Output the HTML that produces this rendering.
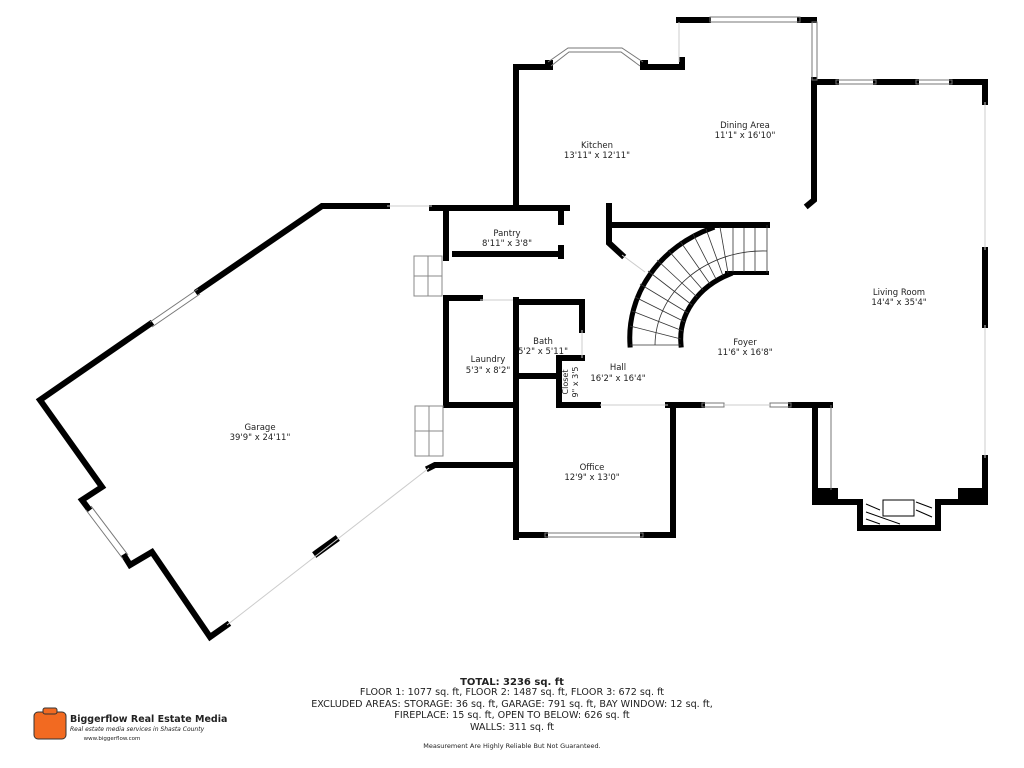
<!DOCTYPE html>
<html><head><meta charset="utf-8"><style>
body{margin:0;background:#fff;width:1024px;height:768px;overflow:hidden}
svg{display:block}
text{font-family:"DejaVu Sans","Liberation Sans",sans-serif;fill:#222}
</style></head><body>
<svg width="1024" height="768" viewBox="0 0 1024 768">
<g fill="none" stroke="#000" stroke-width="6" stroke-linejoin="miter" stroke-linecap="square">
<!-- garage -->
<polyline points="387,206 322,206 198,291"/>
<polyline points="150,324 40,400 102,487 82,500 88,508"/>
<polyline points="125,557 130,565 152,552 210,637 227,625"/>
<polyline points="429,468 435,465 512,465"/>
<line x1="317" y1="553" x2="335" y2="540" stroke-width="7"/>
<!-- interior west -->
<polyline points="432,208 567,208"/>
<line x1="446" y1="208" x2="446" y2="258"/>
<polyline points="446,298 446,405 512,405"/>
<line x1="446" y1="298" x2="480" y2="298"/>
<polyline points="455,254 560,254"/>
<line x1="561" y1="210" x2="561" y2="222"/>
<line x1="561" y1="248" x2="561" y2="256"/>
<line x1="516" y1="300" x2="516" y2="537"/>
<polyline points="516,302 582,302 582,330"/>
<polyline points="516,376 557,376"/>
<polyline points="582,358 559,358 559,405 598,405"/>
<!-- kitchen -->
<polyline points="516,206 516,67 545,67"/>
<polyline points="645,67 682,67 682,60"/>
<polyline points="679,20 708,20"/>
<line x1="800" y1="20" x2="814" y2="20"/>
<!-- dining right -->
<polyline points="814,80 814,200 808,205"/>
<!-- living -->
<polyline points="814,82 836,82"/>
<line x1="876" y1="82" x2="916" y2="82"/>
<line x1="952" y1="82" x2="985" y2="82"/>
<line x1="985" y1="82" x2="985" y2="102"/>
<line x1="985" y1="250" x2="985" y2="325"/>
<line x1="985" y1="458" x2="985" y2="502"/>
<!-- stairs walls -->
<polyline points="609,206 609,243 622,255"/>
<line x1="610" y1="225" x2="767" y2="225"/>
<line x1="727" y1="273" x2="767" y2="273" stroke-width="4"/>
<path d="M630,345 A130,118 0 0 1 712,228" stroke-width="5"/>
<path d="M681,345 A86,72 0 0 1 730,274" stroke-width="5"/>
<!-- south -->
<line x1="668" y1="405" x2="702" y2="405"/>
<line x1="791" y1="405" x2="830" y2="405"/>
<polyline points="673,405 673,535 643,535"/>
<polyline points="545,535 516,535"/>
<polyline points="815,405 815,502 860,502 860,528 938,528 938,502 985,502"/>
</g>
<g fill="#000">
<rect x="815" y="488" width="23" height="14"/>
<rect x="958" y="488" width="27" height="14"/>
<rect x="545" y="60" width="8" height="10"/>
<rect x="640" y="60" width="8" height="10"/>
</g>
<!-- windows / openings -->
<g fill="none" stroke="#777" stroke-width="1">
<line x1="831" y1="405" x2="831" y2="490"/>
<polyline points="150,322 198,289"/><polyline points="152,327 200,294"/>
<polyline points="86,510 123,559"/><polyline points="91,506 128,555"/>
<line x1="227" y1="625" x2="429" y2="468" stroke="#ccc"/>
<line x1="387" y1="206" x2="432" y2="206" stroke="#ccc"/>
<polyline points="548,62 568,48 622,48 643,62"/><polyline points="551,66 569,52 621,52 640,66"/>
<rect x="710" y="17" width="90" height="5"/>
<rect x="812" y="22" width="5" height="58"/>
<line x1="679" y1="22" x2="679" y2="62" stroke="#ccc"/>
<rect x="836" y="80" width="40" height="4"/><rect x="916" y="80" width="36" height="4"/>
<line x1="985" y1="102" x2="985" y2="250" stroke="#ccc"/>
<line x1="985" y1="325" x2="985" y2="458" stroke="#ccc"/>
<rect x="702" y="403" width="22" height="4"/><rect x="770" y="403" width="21" height="4"/>
<line x1="600" y1="405" x2="668" y2="405" stroke="#ccc"/>
<line x1="724" y1="405" x2="770" y2="405" stroke="#ccc"/>
<rect x="545" y="533" width="98" height="4"/>
<line x1="480" y1="300" x2="513" y2="300" stroke="#ccc"/>
<line x1="582" y1="330" x2="582" y2="358" stroke="#ccc"/>
<line x1="622" y1="255" x2="645" y2="272" stroke="#ccc"/>
<!-- step boxes -->
<rect x="414" y="256" width="28" height="40" stroke="#888"/>
<line x1="428" y1="256" x2="428" y2="296" stroke="#888"/><line x1="414" y1="276" x2="442" y2="276" stroke="#888"/>
<rect x="415" y="406" width="28" height="50" stroke="#888"/>
<line x1="429" y1="406" x2="429" y2="456" stroke="#888"/><line x1="415" y1="431" x2="443" y2="431" stroke="#888"/>
<!-- fireplace -->
<rect x="883" y="500" width="31" height="16" stroke="#000"/>
<line x1="866" y1="504" x2="880" y2="510" stroke="#000"/><line x1="866" y1="512" x2="900" y2="524" stroke="#000"/>
<line x1="866" y1="519" x2="880" y2="524" stroke="#000"/><line x1="916" y1="502" x2="932" y2="508" stroke="#000"/>
<line x1="916" y1="510" x2="932" y2="517" stroke="#000"/>
</g>
<!-- stair treads -->
<g stroke="#333" stroke-width="0.8" fill="none">
<line x1="733" y1="228" x2="733" y2="272"/><line x1="744" y1="228" x2="744" y2="272"/><line x1="755" y1="228" x2="755" y2="272"/><line x1="767" y1="225" x2="767" y2="273"/>
<line x1="720" y1="227" x2="728" y2="273"/><line x1="706" y1="229" x2="723" y2="276"/>
<line x1="693" y1="234" x2="716" y2="279"/><line x1="680" y1="241" x2="710" y2="284"/>
<line x1="668" y1="250" x2="703" y2="290"/><line x1="657" y1="260" x2="697" y2="297"/>
<line x1="648" y1="271" x2="692" y2="305"/><line x1="640" y1="284" x2="688" y2="313"/>
<line x1="635" y1="297" x2="685" y2="322"/><line x1="632" y1="311" x2="683" y2="331"/>
<line x1="630" y1="326" x2="681" y2="339"/><line x1="630" y1="345" x2="681" y2="345"/>
<path d="M655,345 A108,95 0 0 1 767,251"/>
</g>
<!-- labels -->
<g font-size="8.5" text-anchor="middle">
<text x="597" y="148">Kitchen</text><text x="597" y="158">13'11" x 12'11"</text>
<text x="745" y="128">Dining Area</text><text x="745" y="138">11'1" x 16'10"</text>
<text x="899" y="295">Living Room</text><text x="899" y="305">14'4" x 35'4"</text>
<text x="507" y="236">Pantry</text><text x="507" y="246">8'11" x 3'8"</text>
<text x="543" y="344">Bath</text><text x="543" y="354">5'2" x 5'11"</text>
<text x="488" y="362">Laundry</text><text x="488" y="373">5'3" x 8'2"</text>
<text x="618" y="370">Hall</text><text x="618" y="381">16'2" x 16'4"</text>
<text x="745" y="345">Foyer</text><text x="745" y="355">11'6" x 16'8"</text>
<text x="260" y="430">Garage</text><text x="260" y="440">39'9" x 24'11"</text>
<text x="592" y="470">Office</text><text x="592" y="480">12'9" x 13'0"</text>
<text transform="translate(568,382) rotate(-90)" font-size="8">Closet</text>
<text transform="translate(578,382) rotate(-90)" font-size="8">9" x 3'5</text>
</g>
<g text-anchor="middle" font-family="Liberation Sans">
<text x="512" y="685" font-size="10" font-weight="bold">TOTAL: 3236 sq. ft</text>
<text x="512" y="695" font-size="9.6">FLOOR 1: 1077 sq. ft, FLOOR 2: 1487 sq. ft, FLOOR 3: 672 sq. ft</text>
<text x="512" y="707" font-size="9.6">EXCLUDED AREAS: STORAGE: 36 sq. ft, GARAGE: 791 sq. ft, BAY WINDOW: 12 sq. ft,</text>
<text x="512" y="718" font-size="9.6">FIREPLACE: 15 sq. ft, OPEN TO BELOW: 626 sq. ft</text>
<text x="512" y="730" font-size="9.6">WALLS: 311 sq. ft</text>
<text x="512" y="748" font-size="6.5">Measurement Are Highly Reliable But Not Guaranteed.</text>
</g>
<rect x="34" y="712" width="32" height="27" rx="4" fill="#f26a21" stroke="#333" stroke-width="1"/>
<rect x="43" y="708" width="14" height="6" rx="2" fill="#f26a21" stroke="#333" stroke-width="1"/>
<text x="70" y="722" font-family="Liberation Sans" font-size="9.5" font-weight="bold">Biggerflow Real Estate Media</text>
<text x="70" y="731" font-family="Liberation Sans" font-size="6" font-style="italic">Real estate media services in Shasta County</text>
<text x="112" y="740" font-family="Liberation Sans" font-size="5.5" text-anchor="middle">www.biggerflow.com</text>
</svg>
</body></html>
